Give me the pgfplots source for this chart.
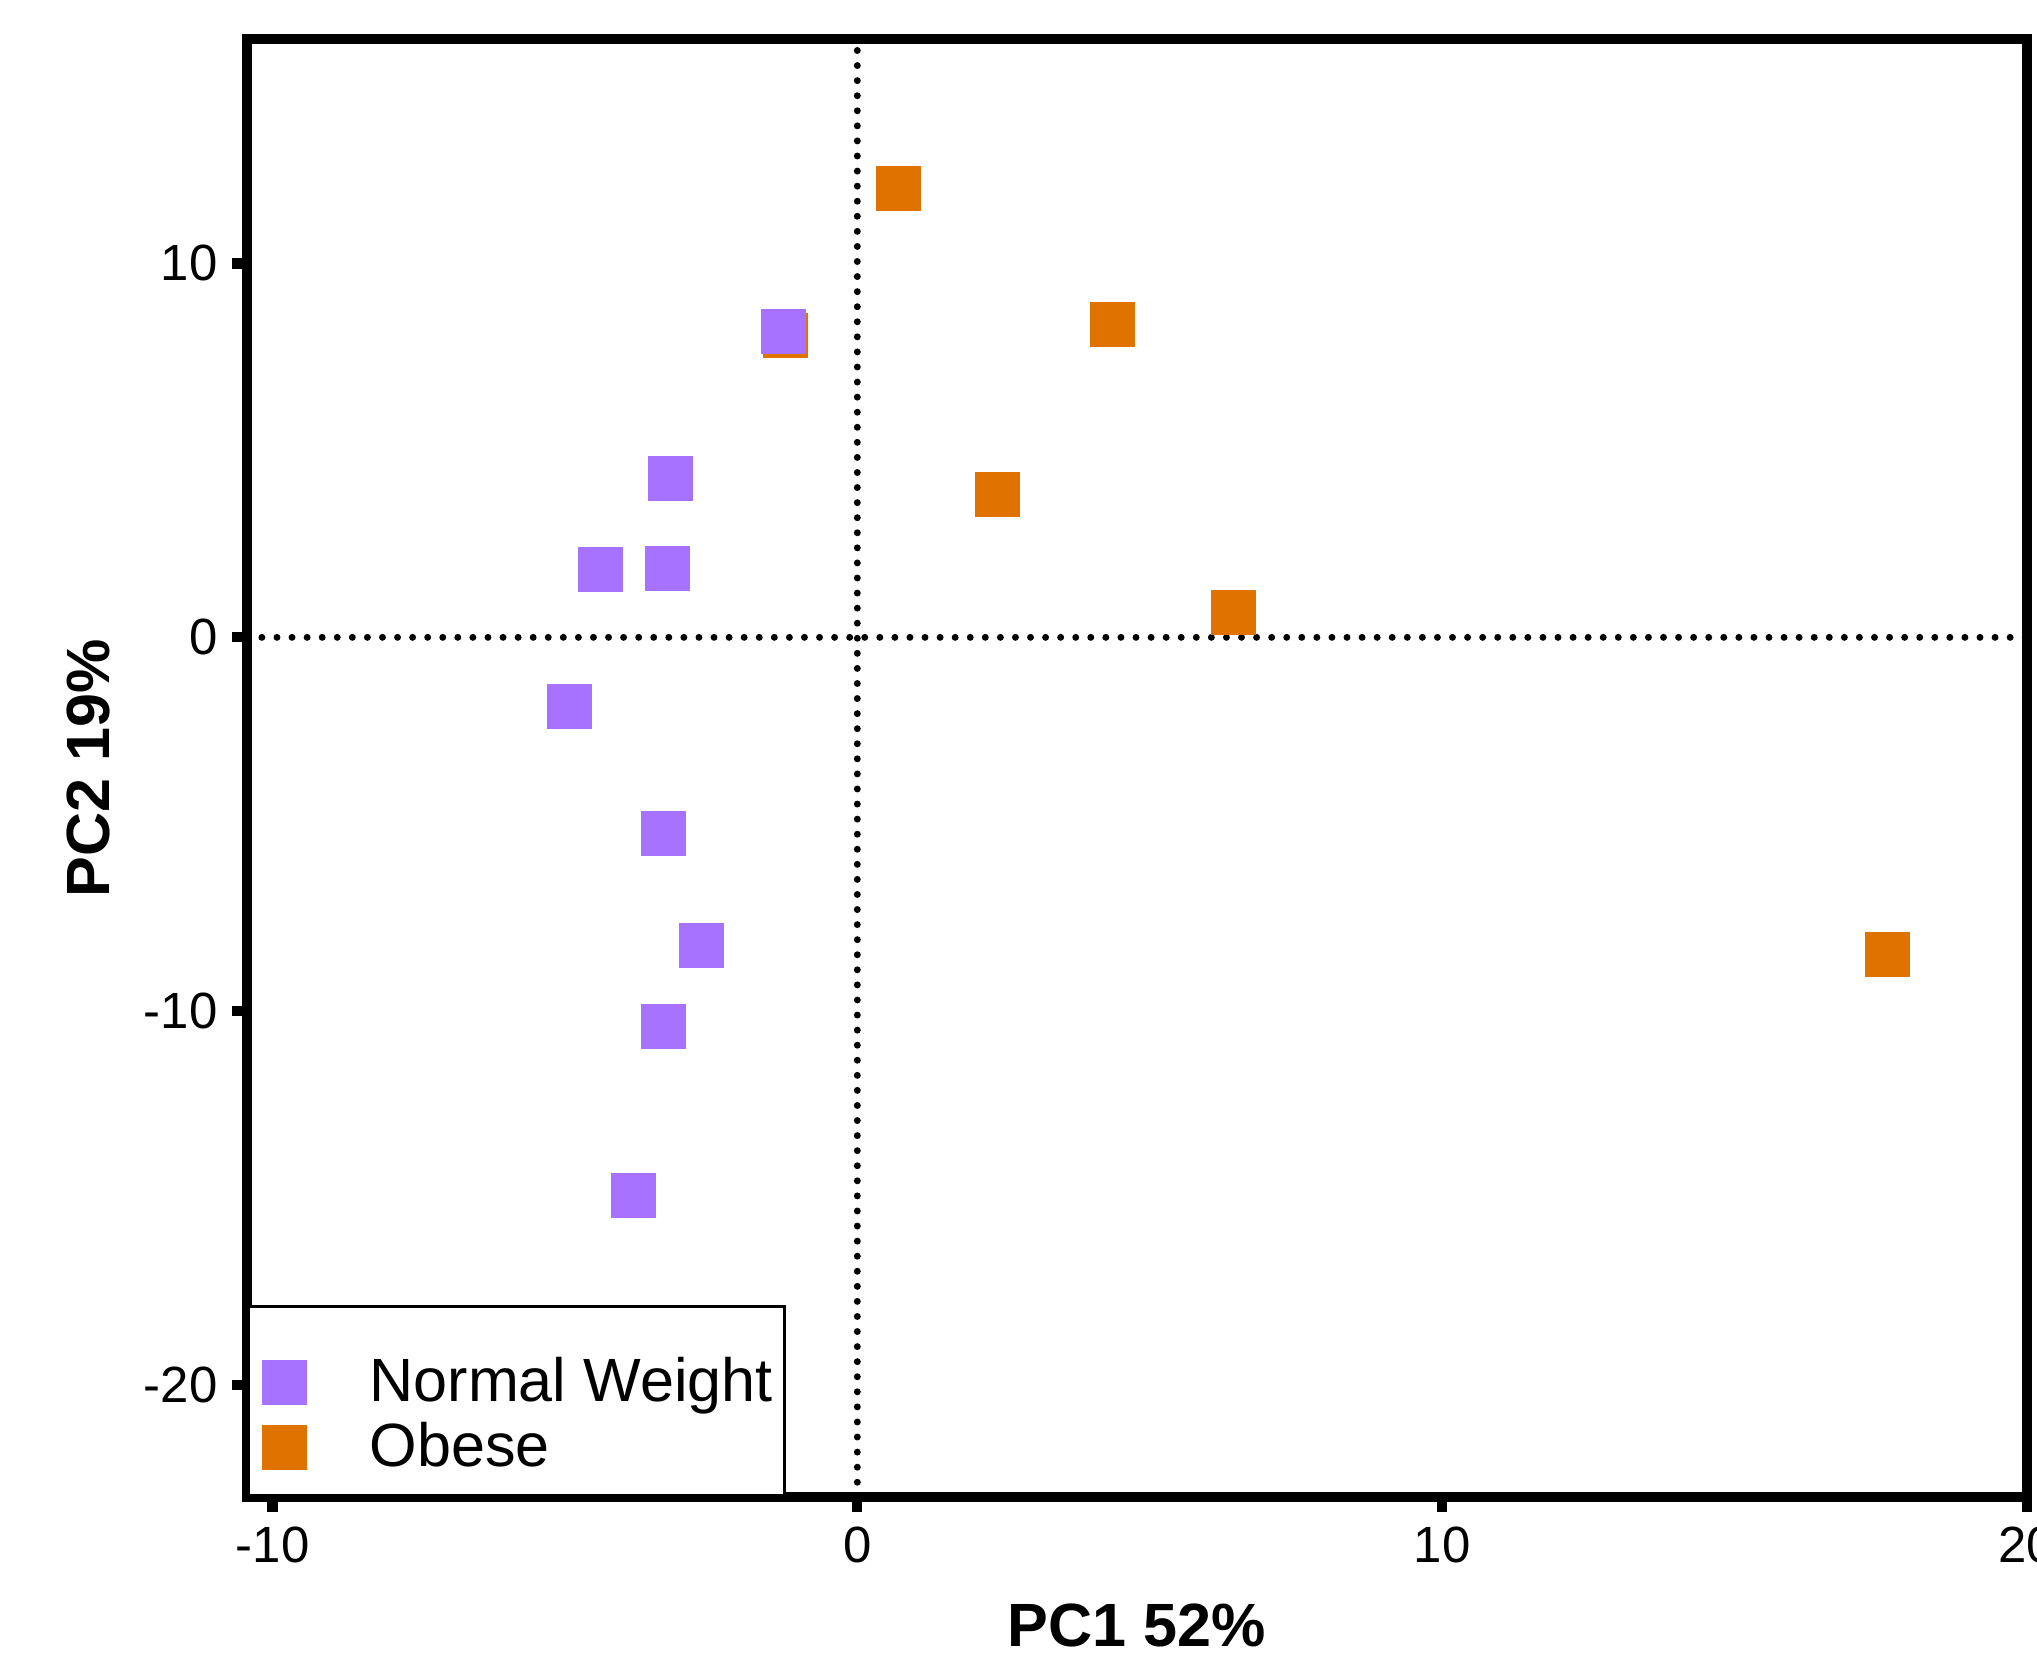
\documentclass[border=0pt]{standalone}
\usepackage{pgfplots}
\pgfplotsset{compat=1.18}
\usepackage{fontspec}
\setmainfont{Liberation Sans}
\definecolor{nwpurple}{RGB}{167,114,255}
\definecolor{obOrange}{RGB}{224,115,0}

\begin{document}
\begin{tikzpicture}
\begin{axis}[
    at={(0,0)}, anchor=south west,
    scale only axis,
    width=437pt, height=358pt,
    xmin=-10.44, xmax=20,
    ymin=-23, ymax=16,
    xtick={-10,0,10,20},
    ytick={-20,-10,0,10},
    xtick pos=bottom, ytick pos=left,
    tick align=outside,
    major tick length=3.7pt,
    every tick/.style={black, line width=2.5pt},
    axis line style={line width=2.5pt},
    /pgf/number format/assume math mode=true,
    ticklabel style={font=\fontsize{12.5}{15}\selectfont},
    xlabel={\textbf{PC1 52\%}},
    ylabel={\textbf{PC2 19\%}},
    label style={font=\fontsize{15}{18}\selectfont},
    xlabel style={at={(rel axis cs:0.5,0)}, anchor=center, yshift=-31.5pt},
    ylabel style={at={(rel axis cs:0,0.5)}, anchor=center, yshift=39pt},
    legend cell align=left,
    reverse legend,
    legend style={
        at={(0,0)}, anchor=south west,
        draw=black, line width=0.7pt, fill=white,
        inner xsep=3pt, inner ysep=3.8pt, row sep=0pt,
        font=\fontsize{15}{18}\selectfont,
        nodes={inner xsep=0pt, inner ysep=0pt, draw=none},
    },
    legend image code/.code={
        \path[draw=none, fill=none] (-6pt,-8pt) rectangle (20.8pt,8pt);
        \path[#1] plot coordinates {(0pt,0pt)};
    },
]
% reference lines at zero
\addplot[forget plot, black, line width=1.7pt, line cap=round,
    dash pattern=on 0pt off 3.7pt] coordinates {(0,-23) (0,16)};
\addplot[forget plot, black, line width=1.7pt, line cap=round,
    dash pattern=on 0pt off 3.7pt] coordinates {(-10.44,0) (20,0)};

\addplot[only marks, color=obOrange, mark=square*, mark size=5.4pt,
    mark options={draw=obOrange, fill=obOrange, line width=0pt}] coordinates {
    (0.71,12.01) (-1.22,8.06) (4.36,8.37) (2.40,3.82) (6.44,0.66) (17.62,-8.47)
};
\addlegendentry{Obese}
\addplot[only marks, color=nwpurple, mark=square*, mark size=5.4pt,
    mark options={draw=nwpurple, fill=nwpurple, line width=0pt}] coordinates {
    (-1.27,8.19) (-3.20,4.24) (-4.40,1.81) (-3.24,1.84) (-4.93,-1.84)
    (-3.31,-5.24) (-2.67,-8.23) (-3.31,-10.42) (-3.82,-14.93)
};
\addlegendentry{Normal Weight}
% spacer row at the top of the legend
\addlegendimage{empty legend}
\addlegendentry{\rule{0pt}{5.5pt}}
\end{axis}
\pgfresetboundingbox
\path[use as bounding box] (-60.6pt,-39.8pt) rectangle (439.5pt,367.6pt);
\end{tikzpicture}
\end{document}
